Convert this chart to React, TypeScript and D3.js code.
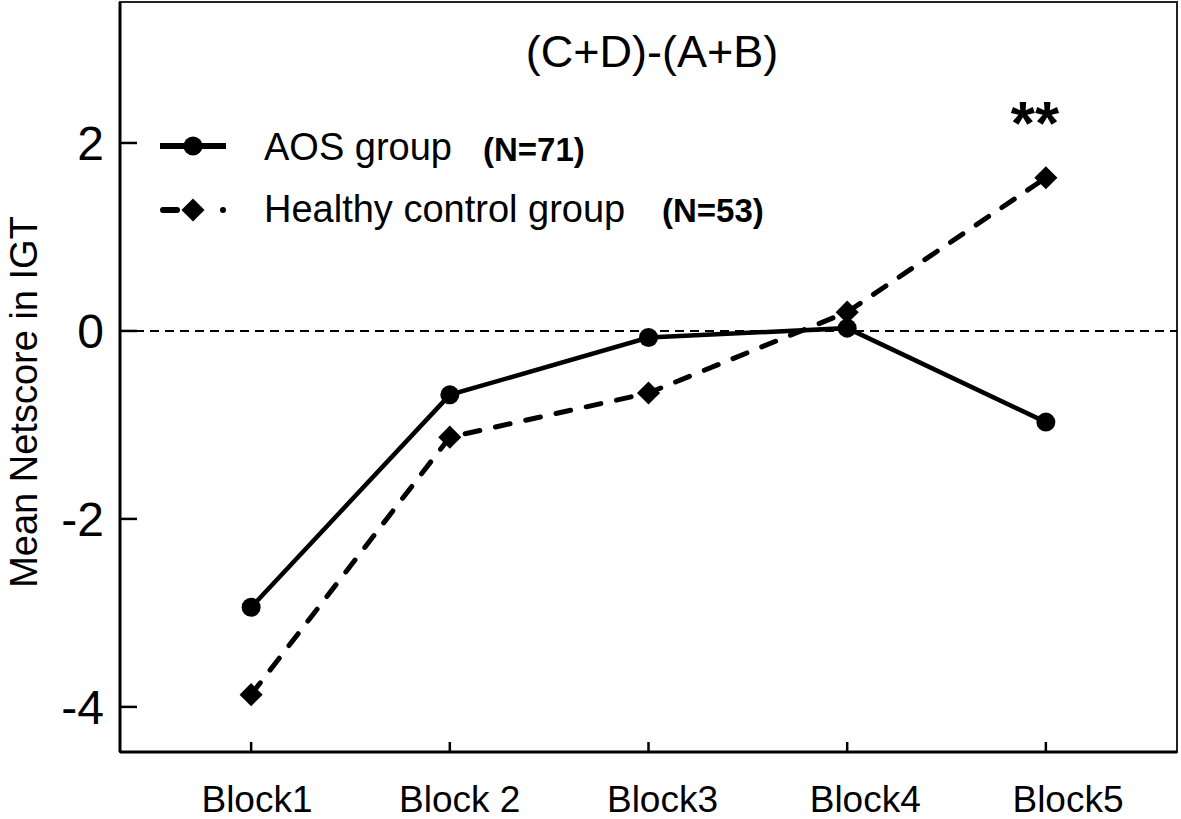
import React, { useEffect, useRef } from 'react'
import * as d3 from 'd3'

const blocks = ['Block1', 'Block 2', 'Block3', 'Block4', 'Block5']
const aosValues = [-2.94, -0.68, -0.07, 0.03, -0.97]
const healthyValues = [-3.87, -1.13, -0.66, 0.2, 1.63]
const yTicks = [-4, -2, 0, 2]

const App = () => {
    const ref = useRef<SVGSVGElement>(null)
    const width = 1181
    const height = 819
    const left = 120
    const right = 1177
    const top = 2
    const bottom = 752

    useEffect(() => {
        const svg = d3.select(ref.current)
        svg.selectAll('*').remove()

        const x = d3.scalePoint<string>().domain(blocks).range([left, right]).padding(0.66)
        const labelX = d3.scalePoint<string>().domain(blocks).range([257, 1068])
        const y = d3.scaleLinear().domain([-4.48, 3.5]).range([bottom, top])

        const font = 'Liberation Sans, Arial, sans-serif'

        // frame
        svg.append('rect')
            .attr('x', left).attr('y', top)
            .attr('width', right - left).attr('height', bottom - top)
            .attr('fill', 'none').attr('stroke', '#222').attr('stroke-width', 2)
        svg.append('line')
            .attr('x1', left).attr('x2', left).attr('y1', top).attr('y2', bottom)
            .attr('stroke', '#000').attr('stroke-width', 3)
        svg.append('line')
            .attr('x1', left).attr('x2', right).attr('y1', bottom).attr('y2', bottom)
            .attr('stroke', '#000').attr('stroke-width', 3)

        // zero line
        svg.append('line')
            .attr('x1', left).attr('x2', right).attr('y1', y(0)).attr('y2', y(0))
            .attr('stroke', '#000').attr('stroke-width', 2).attr('stroke-dasharray', '9,6')

        // y ticks
        const yt = svg.append('g')
        yt.selectAll('line').data(yTicks).join('line')
            .attr('x1', left).attr('x2', left + 17)
            .attr('y1', d => y(d)).attr('y2', d => y(d))
            .attr('stroke', '#000').attr('stroke-width', 2.5)
        yt.selectAll('text').data(yTicks).join('text')
            .attr('x', 104).attr('y', d => y(d)).attr('dy', '0.36em')
            .attr('text-anchor', 'end')
            .attr('font-family', font).attr('font-size', 48)
            .text(d => d)

        // x ticks
        const xt = svg.append('g')
        xt.selectAll('line').data(blocks).join('line')
            .attr('x1', d => x(d)!).attr('x2', d => x(d)!)
            .attr('y1', bottom).attr('y2', bottom - 10)
            .attr('stroke', '#000').attr('stroke-width', 2.5)
        xt.selectAll('text').data(blocks).join('text')
            .attr('x', d => labelX(d)!).attr('y', 812)
            .attr('text-anchor', 'middle')
            .attr('font-family', font).attr('font-size', 37)
            .text(d => d)

        // y label
        svg.append('text')
            .attr('transform', `translate(37,402) rotate(-90)`)
            .attr('text-anchor', 'middle')
            .attr('font-family', font).attr('font-size', 38)
            .text('Mean Netscore in IGT')

        // title
        svg.append('text')
            .attr('x', 652).attr('y', 67)
            .attr('text-anchor', 'middle')
            .attr('font-family', font).attr('font-size', 45)
            .text('(C+D)-(A+B)')

        const line = d3.line<number>()
            .x((_, i) => x(blocks[i])!)
            .y(d => y(d))

        svg.append('path')
            .datum(healthyValues)
            .attr('d', line)
            .attr('fill', 'none').attr('stroke', '#000').attr('stroke-width', 5)
            .attr('stroke-dasharray', '15,16').attr('stroke-linecap', 'round')

        svg.append('path')
            .datum(aosValues)
            .attr('d', line)
            .attr('fill', 'none').attr('stroke', '#000').attr('stroke-width', 4.5)

        const diamond = d3.symbol().type(d3.symbolDiamond2).size(340)
        svg.append('g').selectAll('path').data(healthyValues).join('path')
            .attr('d', diamond)
            .attr('transform', (d, i) => `translate(${x(blocks[i])},${y(d)})`)
            .attr('fill', '#000')

        svg.append('g').selectAll('circle').data(aosValues).join('circle')
            .attr('cx', (_, i) => x(blocks[i])!).attr('cy', d => y(d))
            .attr('r', 9.5).attr('fill', '#000')

        // legend
        const lg = svg.append('g').attr('font-family', font)
        lg.append('line').attr('x1', 160).attr('x2', 226).attr('y1', 146).attr('y2', 146)
            .attr('stroke', '#000').attr('stroke-width', 6)
        lg.append('circle').attr('cx', 193).attr('cy', 146).attr('r', 9.5).attr('fill', '#000')
        lg.append('text').attr('x', 264).attr('y', 160).attr('font-size', 38).text('AOS group')
        lg.append('text').attr('x', 483).attr('y', 161).attr('font-size', 33).attr('font-weight', 'bold').text('(N=71)')

        lg.append('line').attr('x1', 163).attr('x2', 226).attr('y1', 210).attr('y2', 210)
            .attr('stroke', '#000').attr('stroke-width', 6).attr('stroke-dasharray', '14,46,0,20')
            .attr('stroke-linecap', 'round')
        lg.append('path').attr('d', diamond).attr('transform', 'translate(193,210)').attr('fill', '#000')
        lg.append('text').attr('x', 264).attr('y', 222).attr('font-size', 38).text('Healthy control group')
        lg.append('text').attr('x', 662).attr('y', 222).attr('font-size', 33).attr('font-weight', 'bold').text('(N=53)')

        // significance
        svg.append('text')
            .attr('x', 1035).attr('y', 144)
            .attr('text-anchor', 'middle')
            .attr('font-family', font).attr('font-size', 62).attr('font-weight', 'bold')
            .text('**')
    }, [])

    return (
        <svg ref={ref} width={width} height={height}
            style={{ position: 'absolute', left: 0, top: 0, background: '#fff' }} />
    )
}

export default App
